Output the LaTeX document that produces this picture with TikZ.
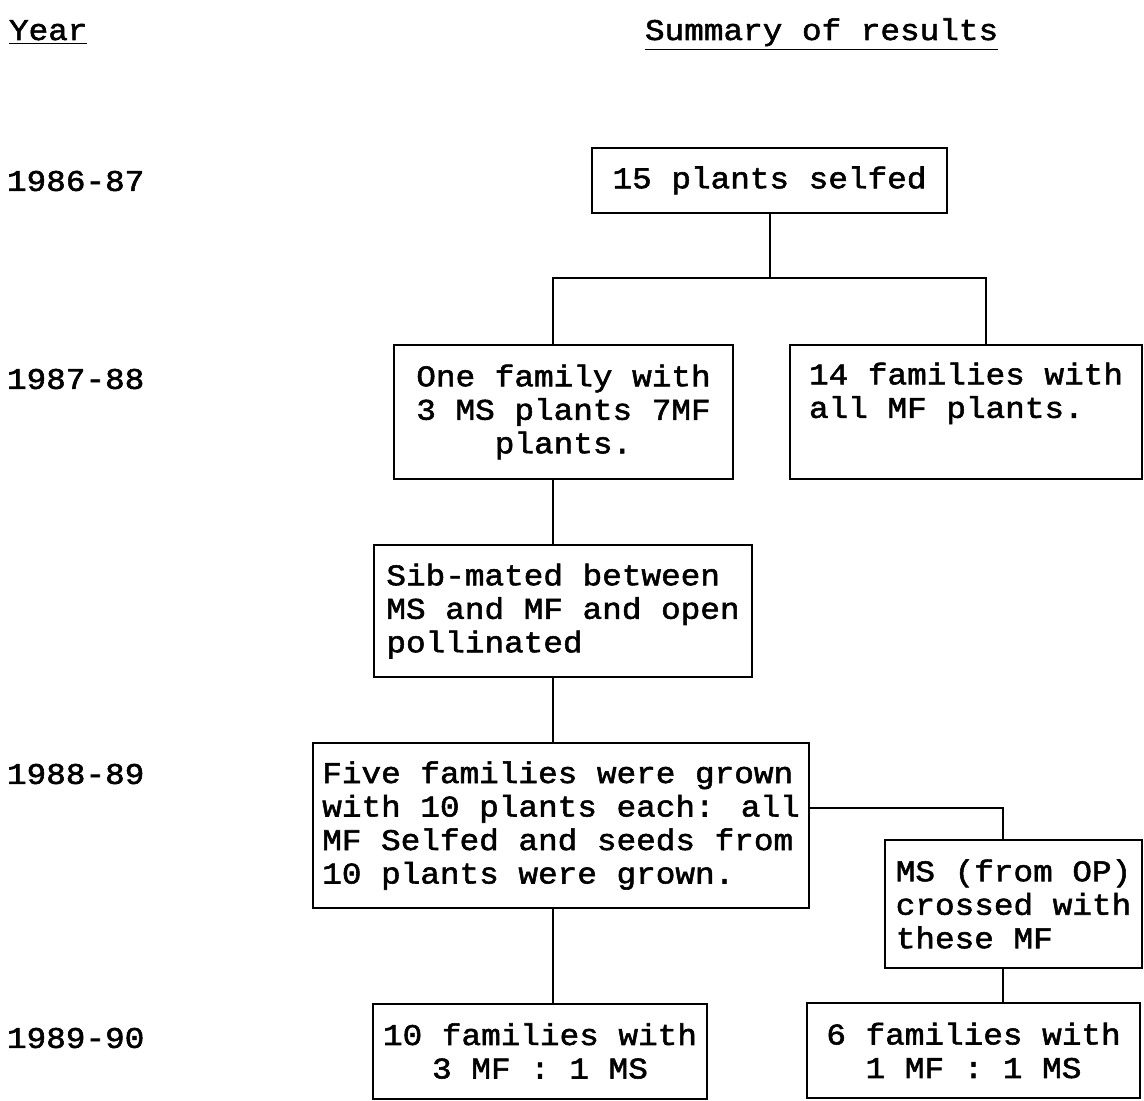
\documentclass[tikz,border=0pt]{standalone}
\usepackage{fontspec}
\setmainfont{Liberation Mono}[FakeStretch=1.09,FakeBold=1.8]

\begin{document}
\begin{tikzpicture}[x=0.5pt, y=-0.5pt, line width=1pt,
    font=\fontsize{15}{16.75}\selectfont,
    box/.style={draw, inner sep=0pt, align=left},
    year/.style={anchor=west, inner sep=0pt}]
    \useasboundingbox (0,0) rectangle (1144,1101);

    % Headings
    \node[anchor=base west, inner sep=0pt] (hyear) at (8,40) {\underline{Year}};
    \node[anchor=base west, inner sep=0pt] (hsum) at (644,40) {\underline{Summary of results}};

    % Years
    \node[year] (y1) at (6,181) {1986-87};
    \node[year] (y2) at (6,379) {1987-88};
    \node[year] (y3) at (6,774) {1988-89};
    \node[year] (y4) at (6,1038) {1989-90};

    % Boxes
    \node[box, minimum width=177.5pt, minimum height=32.5pt] (selfed) at (769.5,180.5) {15 plants selfed};
    \node[box, align=center, minimum width=169.5pt, minimum height=67pt] (onefam) at (563.5,412) {One family with\\3 MS plants 7MF\\plants.};
    \node[box, minimum width=176pt, minimum height=67pt] (allmf) at (966,412) {14 families with\\all MF plants.\\\strut};
    \node[box, minimum width=189pt, minimum height=66pt] (sibmated) at (563,611) {Sib-mated between\\MS and MF and open\\pollinated};
    \node[box, minimum width=248pt, minimum height=82.5pt] (fivefam) at (561,825.5) {Five families were grown\\with 10 plants each: all\\MF Selfed and seeds from\\10 plants were grown.};
    \node[box, minimum width=128.5pt, minimum height=64pt] (crossed) at (1013.5,904) {MS (from OP)\\crossed with\\these MF};
    \node[box, align=center, minimum width=167pt, minimum height=47.5pt] (threeone) at (540,1051) {10 families with\\3 MF : 1 MS};
    \node[box, align=center, minimum width=166.5pt, minimum height=47.5pt] (oneone) at (973.5,1050.5) {6 families with\\1 MF : 1 MS};

    % Connectors
    \coordinate (barL) at (553,278);
    \coordinate (barR) at (986,278);
    \coordinate (bendF) at (1003,808);
    \draw (selfed.south) -- (selfed.south |- barL);
    \draw (onefam.north -| barL) -- (barL) -- (barR) -- (allmf.north -| barR);
    \draw (onefam.south -| barL) -- (sibmated.north -| barL);
    \draw (sibmated.south -| barL) -- (fivefam.north -| barL);
    \draw (fivefam.south -| barL) -- (threeone.north -| barL);
    \draw (fivefam.east |- bendF) -- (bendF) -- (crossed.north -| bendF);
    \draw (crossed.south -| bendF) -- (oneone.north -| bendF);
\end{tikzpicture}
\end{document}
